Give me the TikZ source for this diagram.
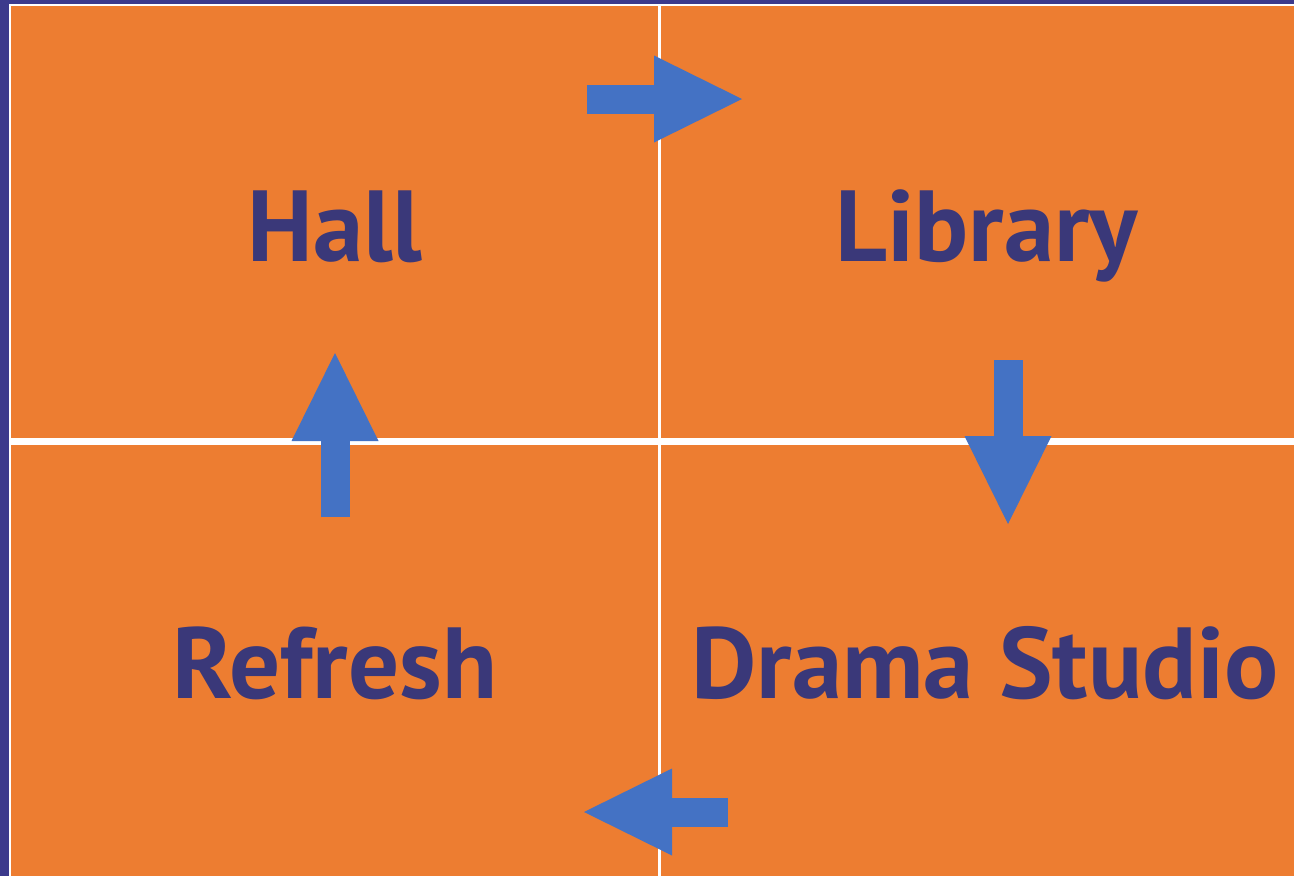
\documentclass[tikz,border=0pt]{standalone}
\usepackage{fontspec}
\setmainfont{PT Sans}
\usetikzlibrary{arrows.meta}
\definecolor{frameblue}{RGB}{60,58,140}
\definecolor{roomorange}{RGB}{237,125,49}
\definecolor{labelblue}{RGB}{58,56,121}
\definecolor{arrowblue}{RGB}{68,114,196}

\begin{document}
\begin{tikzpicture}[x=1pt,y=-1pt]
    \tikzstyle{room}=[fill=roomorange,draw=none]
    \tikzstyle{room label}=[anchor=base,inner sep=0,text=labelblue,font=\fontsize{101}{102}\selectfont\bfseries]
    \tikzstyle{move}=[draw=arrowblue,line width=29pt,-{Triangle[length=88pt,width=87pt,line width=0pt]}]

    \useasboundingbox (0,0) rectangle (1294,876);
    \fill[frameblue] (0,0) rectangle (1294,876);
    \fill[white] (9,4) rectangle (1294,876);

    % the four rooms
    \fill[room] (11,6) rectangle (658,438);
    \fill[room] (661,6) rectangle (1294,438);
    \fill[room] (11,445) rectangle (658,876);
    \fill[room] (661,445) rectangle (1294,876);

    \node(hall)[room label] at (335,261) {Hall};
    \node(library)[room label] at (987,261) {Library};
    \node(refresh)[room label] at (335,698) {Refresh};
    \node(drama)[room label] at (985,698) {Drama Studio};

    % route between the rooms
    \coordinate (hall out) at (587,99);
    \coordinate (library in) at (742,99);
    \coordinate (library out) at (1008,360);
    \coordinate (drama in) at (1008,524);
    \coordinate (drama out) at (728,812);
    \coordinate (refresh in) at (584,812);
    \coordinate (refresh out) at (335,517);
    \coordinate (hall in) at (335,353);

    \draw[move] (hall out) -- (library in);
    \draw[move] (library out) -- (drama in);
    \draw[move] (drama out) -- (refresh in);
    \draw[move] (refresh out) -- (hall in);
\end{tikzpicture}
\end{document}
